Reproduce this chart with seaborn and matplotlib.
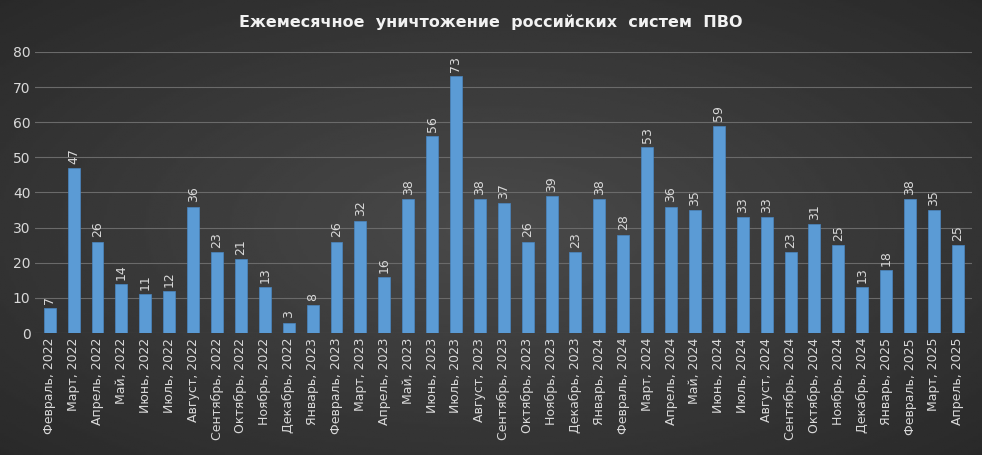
import matplotlib
matplotlib.use("Agg")
import matplotlib.pyplot as plt
import seaborn as sns
import numpy as np
import pandas as pd

months = ["Февраль","Март","Апрель","Май","Июнь","Июль","Август","Сентябрь","Октябрь","Ноябрь","Декабрь","Январь"]
years = [2022]*11 + [2023]*12 + [2024]*12 + [2025]*4
labels = []
for i, y in enumerate(years):
    labels.append(f"{months[i % 12]}, {y}")
values = [7,47,26,14,11,12,36,23,21,13,3,8,26,32,16,38,56,73,38,37,26,39,23,38,28,53,36,35,59,33,33,23,31,25,13,18,38,35,25]

df = pd.DataFrame({"month": labels, "value": values})

fig = plt.figure(figsize=(9.82, 4.55), dpi=100)
bg = fig.add_axes([0, 0, 1, 1], zorder=-10)
yy, xx = np.mgrid[-1:1:200j, -1:1:400j]
r = np.sqrt(xx**2 + yy**2)
bg.imshow(0.29 - 0.09 * r, cmap="gray", vmin=0, vmax=1, aspect="auto", extent=[0, 1, 0, 1])
bg.axis("off")

ax = fig.add_axes([0.036, 0.268, 0.954, 0.618])
ax.set_facecolor("none")
sns.barplot(data=df, x="month", y="value", color="#5b9bd5", saturation=1, width=0.5, ax=ax, zorder=3)
for p in ax.patches:
    p.set_edgecolor("#4a86c0")
    p.set_linewidth(0.5)
for i, v in enumerate(values):
    ax.text(i, v + 1.2, str(v), rotation=90, ha="center", va="bottom", color="#d9d9d9", fontsize=9)

ax.set_ylim(0, 80)
ax.set_yticks(range(0, 81, 10))
ax.set_xlim(-0.6, len(values) - 0.4)
ax.grid(axis="y", color="#6a6a6a", linewidth=0.8, zorder=0)
ax.set_axisbelow(True)
for s in ax.spines.values():
    s.set_visible(False)
ax.tick_params(axis="both", length=0, colors="#d9d9d9", labelsize=9)
ax.tick_params(axis="y", labelsize=10)
plt.setp(ax.get_xticklabels(), rotation=90)
ax.set_xlabel("")
ax.set_ylabel("")
fig.text(0.5, 0.95, "Ежемесячное  уничтожение  российских  систем  ПВО", ha="center", va="center",
         color="#f2f2f2", fontsize=11.5, fontweight="bold")
fig.savefig("out.png", dpi=100)
